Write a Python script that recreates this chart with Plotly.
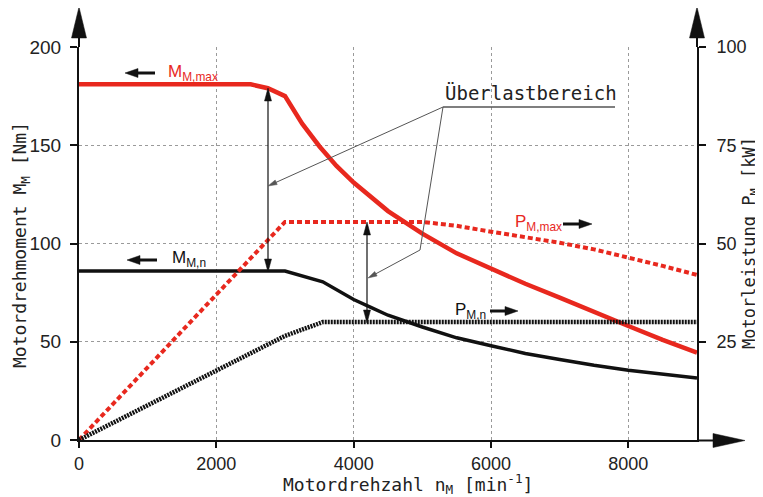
import plotly.graph_objects as go

# ---------------- data ----------------
n_Mmax = [0, 2500, 2750, 3000, 3250, 3500, 3750, 4000, 4500, 5000, 5500, 6000,
          6500, 7000, 7500, 8000, 8500, 9000]
M_max = [181, 181, 179, 175, 161, 149.5, 139.5, 131, 116.5, 105, 95, 87,
         79.5, 72.5, 65, 58, 51, 44.5]

n_Mn = [0, 3000, 3550, 3800, 4000, 4250, 4500, 5000, 5500, 6000, 6500, 7000,
        7500, 8000, 8500, 9000]
M_n = [86, 86, 80.5, 75.5, 71.5, 67.5, 63.5, 57.5, 52, 48, 44, 41,
       38, 35.5, 33.5, 31.5]

n_Pmax = [0, 3000, 5000, 5500, 6000, 6500, 7000, 7500, 8000, 8500, 9000]
P_max = [0, 55.5, 55.5, 54.5, 53, 51.7, 50.2, 48.5, 46.5, 44.3, 42]

n_Pn = [0, 3000, 3550, 9000]
P_n = [0, 26.5, 30, 30]

x_ticks = [0, 2000, 4000, 6000, 8000]
y_ticks = [0, 50, 100, 150, 200]
y2_ticks = [25, 50, 75, 100]

RED = "#e8281e"
BLACK = "#111111"
GRAY = "#555555"
MONO = "DejaVu Sans Mono"
SANS = "Liberation Sans, Arial, sans-serif"

# plot-area geometry in screen pixels (page body has an 8px margin)
L, R, T, B = 79, 697, 47, 440
OFF = 8
W, H = 763 - OFF, 497 - OFF


def px(X):
    return (X - L) / (R - L)


def py(Y):
    return (B - Y) / (B - T)


def arrow(shapes, x0, y0, x1, y1, hl, hw, width, color):
    """Shaft from (x0,y0) to (x1,y1) with a filled head at (x1,y1); pixel coords."""
    dx, dy = x1 - x0, y1 - y0
    d = (dx * dx + dy * dy) ** 0.5
    ux, uy = dx / d, dy / d
    bx, by = x1 - ux * hl, y1 - uy * hl
    shapes.append(dict(type="line", xref="paper", yref="paper",
                       x0=px(x0), y0=py(y0), x1=px(bx + ux * 1), y1=py(by + uy * 1),
                       line=dict(color=color, width=width)))
    nx, ny = -uy, ux
    shapes.append(dict(type="path", xref="paper", yref="paper",
                       path=(f"M {px(x1)},{py(y1)} L {px(bx + nx * hw)},{py(by + ny * hw)} "
                             f"L {px(bx - nx * hw)},{py(by - ny * hw)} Z"),
                       fillcolor=color, line=dict(color=color, width=0.5)))


fig = go.Figure()
fig.add_trace(go.Scatter(x=n_Mmax, y=M_max, mode="lines",
                         line=dict(color=RED, width=4.5), yaxis="y"))
fig.add_trace(go.Scatter(x=n_Mn, y=M_n, mode="lines",
                         line=dict(color=BLACK, width=3.5), yaxis="y"))
fig.add_trace(go.Scatter(x=n_Pmax, y=P_max, mode="lines",
                         line=dict(color=RED, width=4, dash="5px,3px"), yaxis="y2"))
fig.add_trace(go.Scatter(x=n_Pn, y=P_n, mode="lines",
                         line=dict(color=BLACK, width=4.5, dash="2px,1px"), yaxis="y2"))

shapes = []
# axis extensions with arrowheads
arrow(shapes, L, T, L, 7, 31, 7.5, 2, BLACK)
arrow(shapes, R, T, R, 7, 31, 7.5, 2, BLACK)
arrow(shapes, R, B + 0.5, 745, B + 0.5, 32, 7, 2, BLACK)

# double arrows of the overload range
arrow(shapes, 268, 180, 268, 88, 13, 3.5, 1.2, BLACK)
arrow(shapes, 268, 180, 268, 272, 13, 3.5, 1.2, BLACK)
arrow(shapes, 367, 272, 367, 222, 13, 3.5, 1.2, BLACK)
arrow(shapes, 367, 272, 367, 323, 13, 3.5, 1.2, BLACK)

# Überlastbereich underline and leader lines
shapes.append(dict(type="line", xref="paper", yref="paper", x0=px(443), x1=px(615),
                   y0=py(107), y1=py(107), line=dict(color=GRAY, width=1.5)))
arrow(shapes, 443, 107, 268, 186, 9, 2.5, 1, GRAY)
shapes.append(dict(type="line", xref="paper", yref="paper", x0=px(443), x1=px(420),
                   y0=py(107), y1=py(250), line=dict(color=GRAY, width=1)))
arrow(shapes, 420, 250, 368, 278, 9, 2.5, 1, GRAY)

# label arrows
arrow(shapes, 155, 73, 125, 73, 13, 4.5, 3, BLACK)
arrow(shapes, 157, 260, 127, 260, 13, 4.5, 3, BLACK)
arrow(shapes, 563, 224, 592, 224, 13, 4.5, 3, BLACK)
arrow(shapes, 490, 311, 518, 311, 13, 4.5, 3, BLACK)

ann = []
ann.append(dict(x=px(443), y=py(106), xref="paper", yref="paper", xanchor="left",
                yanchor="bottom", text="Überlastbereich", showarrow=False,
                font=dict(family=MONO, size=19, color="#222222")))

labels = [
    ("M<sub>M,max</sub>", 166, 73, RED),
    ("M<sub>M,n</sub>", 170, 259, BLACK),
    ("P<sub>M,max</sub>", 513, 223, RED),
    ("P<sub>M,n</sub>", 453, 311, BLACK),
]
for txt, X, Y, col in labels:
    ann.append(dict(x=px(X), y=py(Y), xref="paper", yref="paper", xanchor="left",
                    yanchor="middle", text=txt, showarrow=False,
                    font=dict(family=SANS, size=17, color=col)))

# axis titles
ann.append(dict(x=px(21), y=py(245), xref="paper", yref="paper", textangle=-90,
                xanchor="center", yanchor="middle",
                text="Motordrehmoment M<sub>M</sub> [Nm]", showarrow=False,
                font=dict(family=MONO, size=18, color="#222222")))
ann.append(dict(x=px(750), y=py(243), xref="paper", yref="paper", textangle=-90,
                xanchor="center", yanchor="middle",
                text="Motorleistung P<sub>M</sub> [kW]", showarrow=False,
                font=dict(family=MONO, size=17, color="#222222")))
ann.append(dict(x=px(408), y=py(484), xref="paper", yref="paper",
                xanchor="center", yanchor="middle",
                text="Motordrehzahl n<sub>M</sub> [min<sup>-1</sup>]", showarrow=False,
                font=dict(family=MONO, size=18, color="#222222")))

grid = dict(showgrid=True, gridcolor="#9a9a9a", griddash="dot", gridwidth=1)
fig.update_layout(
    width=W, height=H,
    margin=dict(l=L - OFF, r=763 - R, t=T - OFF, b=497 - B, autoexpand=False),
    paper_bgcolor="white", plot_bgcolor="white",
    showlegend=False,
    font=dict(family=SANS, size=18, color="#222222"),
    xaxis=dict(range=[0, 9000], tickvals=x_ticks, ticks="outside", ticklen=6,
               tickwidth=1.5, tickcolor=BLACK, showline=True, linecolor=BLACK, linewidth=2,
               zeroline=False, tickfont=dict(family=SANS, size=18), **grid),
    yaxis=dict(range=[0, 200], tickvals=y_ticks, ticks="outside", ticklen=7,
               tickwidth=1.5, tickcolor=BLACK, showline=True, linecolor=BLACK, linewidth=2,
               zeroline=False, ticklabelstandoff=5, tickfont=dict(family=SANS, size=19),
               **grid),
    yaxis2=dict(range=[0, 100], tickvals=y2_ticks, overlaying="y", side="right",
                ticks="outside", ticklen=7, tickwidth=1.5, tickcolor=BLACK, showline=True,
                linecolor=BLACK, linewidth=2, zeroline=False, showgrid=False,
                ticklabelstandoff=7, tickfont=dict(family=SANS, size=18)),
    shapes=shapes,
    annotations=ann,
)

fig.write_html("out.html")
